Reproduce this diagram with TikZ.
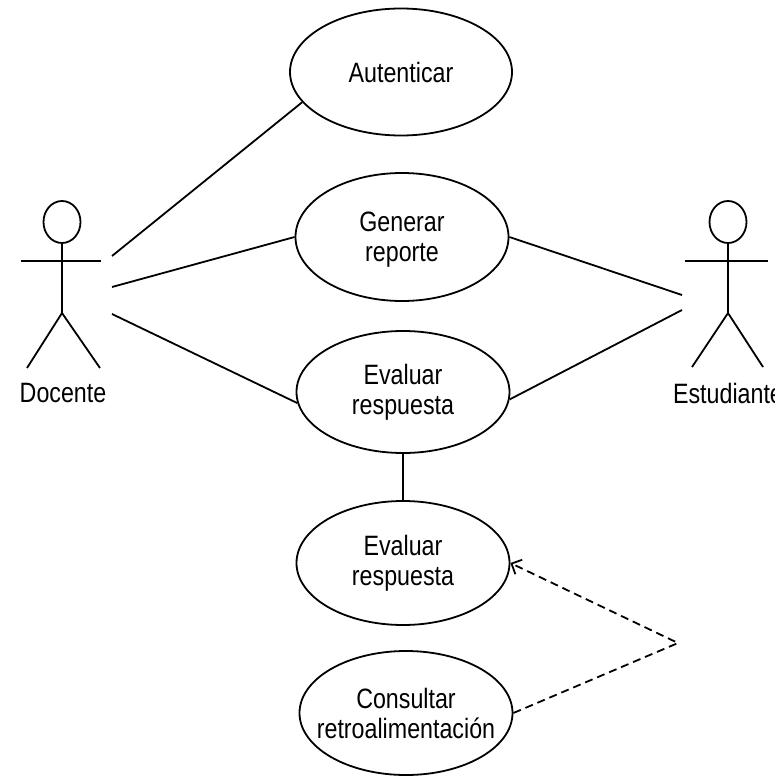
\documentclass[tikz,border=0pt]{standalone}
\usepackage{fontspec}
\setmainfont{Liberation Sans}[FakeStretch=0.83]
\usetikzlibrary{shapes.geometric,arrows.meta}
\begin{document}
\begin{tikzpicture}[x=1pt,y=-1pt,
  line width=1.8pt,
  uc/.style={draw, ellipse, inner sep=0pt, minimum width=213pt, minimum height=124pt},
  uclabel/.style={align=center, font=\fontsize{28}{30}\selectfont},
  lbl/.style={font=\fontsize{28}{30}\selectfont},
  dep/.style={dash pattern=on 8pt off 5pt},
]
\useasboundingbox (0,0) rectangle (774,776);
\clip (0,0) rectangle (774,776);
\fill[white] (0,0) rectangle (774,776);

% actors
\draw (62,222) ellipse [x radius=18.5pt, y radius=21pt];
\draw (21,261) -- (101,261);
\draw (62,243) -- (62,313);
\draw (27,368) -- (62,313) -- (100,368);
\node[lbl] (docente) at (63,393) {Docente};

\draw (728,222) ellipse [x radius=18.5pt, y radius=21pt];
\draw (685,261) -- (768,261);
\draw (728,243) -- (728,313);
\draw (692,367) -- (728,313) -- (763,367);
\node[lbl] (estudiante) at (728,393) {Estudiante};

% connector free ends
\coordinate (d1) at (112,256);
\coordinate (d2) at (112,287);
\coordinate (d3) at (112,314);
\coordinate (e1) at (682,295);
\coordinate (e2) at (682,310);
\coordinate (apex) at (678,643);

% use cases
\node[uc, minimum width=222pt, minimum height=127pt, label={[uclabel]center:Autenticar}] (aut) at (401,72) {};
\node[uc, minimum height=128pt, label={[uclabel, yshift=-3pt]center:{Generar\\reporte}}] (gen) at (402,237) {};
\node[uc, minimum height=122pt, label={[uclabel]center:{Evaluar\\respuesta}}] (ev1) at (403,392) {};
\node[uc, label={[uclabel]center:{Evaluar\\respuesta}}] (ev2) at (403,563) {};
\node[uc, label={[uclabel]center:{Consultar\\retroalimentación}}] (con) at (406,713) {};

% connectors
\draw (d1) -- (aut.197.6);
\draw (d2) -- (gen.west);
\draw (d3) -- (ev1.186);
\draw (gen.east) -- (e1);
\draw (ev1.356) -- (e2);
\draw (ev1.south) -- (ev2.north);
\draw[dep, -{Straight Barb[length=8pt,width=16pt]}] (con.east) -- (apex) -- (ev2.east);
\end{tikzpicture}
\end{document}
